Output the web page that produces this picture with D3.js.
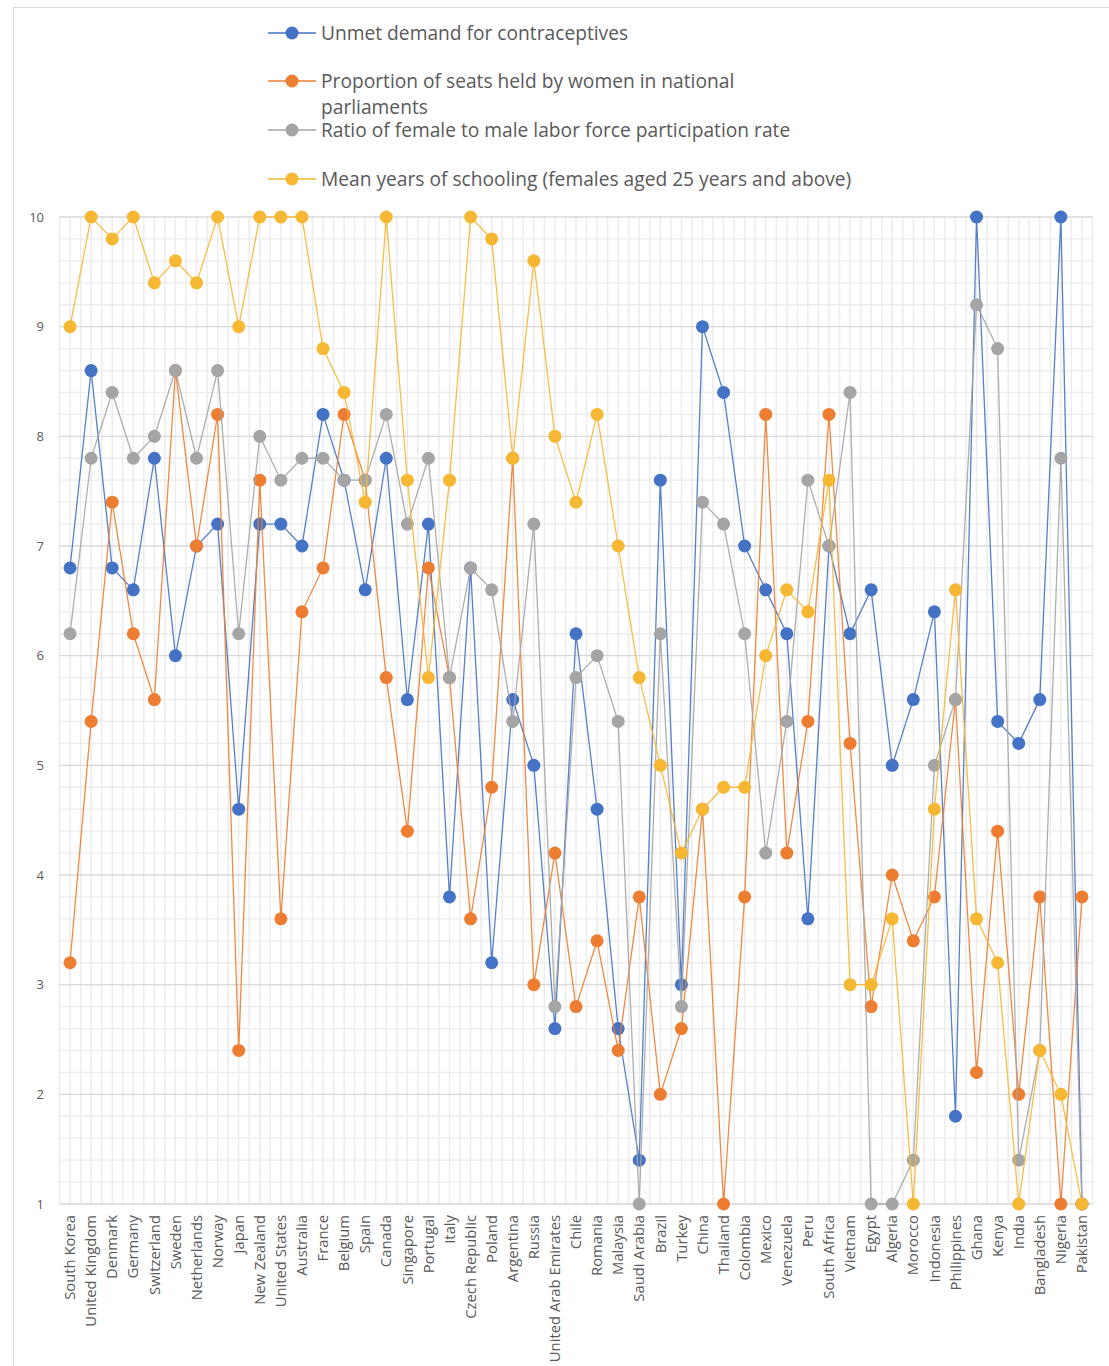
<!DOCTYPE html>
<html>
<head>
<meta charset="utf-8">
<script src="https://cdn.jsdelivr.net/npm/d3@7"></script>
<style>
  html, body { margin: 0; padding: 0; background: #ffffff; }
  svg { display: block; font-family: "Open Sans", "Noto Sans", sans-serif; }
</style>
</head>
<body>
<svg id="chart" width="1109" height="1366"></svg>
<script>
// Countries along the horizontal axis
const countries = [
  "South Korea", "United Kingdom", "Denmark", "Germany", "Switzerland", "Sweden",
  "Netherlands", "Norway", "Japan", "New Zealand", "United States", "Australia",
  "France", "Belgium", "Spain", "Canada", "Singapore", "Portugal", "Italy",
  "Czech Republic", "Poland", "Argentina", "Russia", "United Arab Emirates", "Chile",
  "Romania", "Malaysia", "Saudi Arabia", "Brazil", "Turkey", "China", "Thailand",
  "Colombia", "Mexico", "Venezuela", "Peru", "South Africa", "Vietnam", "Egypt",
  "Algeria", "Morocco", "Indonesia", "Philippines", "Ghana", "Kenya", "India",
  "Bangladesh", "Nigeria", "Pakistan"
];

// Series scores (1–10 scale)
const unmetDemand = [
  6.8, 8.6, 6.8, 6.6, 7.8, 6.0, 7.0, 7.2, 4.6, 7.2, 7.2, 7.0,
  8.2, 7.6, 6.6, 7.8, 5.6, 7.2, 3.8, 6.8, 3.2, 5.6, 5.0, 2.6, 6.2,
  4.6, 2.6, 1.4, 7.6, 3.0, 9.0, 8.4, 7.0, 6.6, 6.2, 3.6, 7.0, 6.2, 6.6,
  5.0, 5.6, 6.4, 1.8, 10.0, 5.4, 5.2, 5.6, 10.0, 1.0
];
const seatsWomen = [
  3.2, 5.4, 7.4, 6.2, 5.6, 8.6, 7.0, 8.2, 2.4, 7.6, 3.6, 6.4,
  6.8, 8.2, 7.6, 5.8, 4.4, 6.8, 5.8, 3.6, 4.8, 7.8, 3.0, 4.2, 2.8,
  3.4, 2.4, 3.8, 2.0, 2.6, 4.6, 1.0, 3.8, 8.2, 4.2, 5.4, 8.2, 5.2, 2.8,
  4.0, 3.4, 3.8, 5.6, 2.2, 4.4, 2.0, 3.8, 1.0, 3.8
];
const laborRatio = [
  6.2, 7.8, 8.4, 7.8, 8.0, 8.6, 7.8, 8.6, 6.2, 8.0, 7.6, 7.8,
  7.8, 7.6, 7.6, 8.2, 7.2, 7.8, 5.8, 6.8, 6.6, 5.4, 7.2, 2.8, 5.8,
  6.0, 5.4, 1.0, 6.2, 2.8, 7.4, 7.2, 6.2, 4.2, 5.4, 7.6, 7.0, 8.4, 1.0,
  1.0, 1.4, 5.0, 5.6, 9.2, 8.8, 1.4, 2.4, 7.8, 1.0
];
const schoolingYears = [
  9.0, 10.0, 9.8, 10.0, 9.4, 9.6, 9.4, 10.0, 9.0, 10.0, 10.0, 10.0,
  8.8, 8.4, 7.4, 10.0, 7.6, 5.8, 7.6, 10.0, 9.8, 7.8, 9.6, 8.0, 7.4,
  8.2, 7.0, 5.8, 5.0, 4.2, 4.6, 4.8, 4.8, 6.0, 6.6, 6.4, 7.6, 3.0, 3.0,
  3.6, 1.0, 4.6, 6.6, 3.6, 3.2, 1.0, 2.4, 2.0, 1.0
];

const seriesNames = [
  "Unmet demand for contraceptives",
  "Proportion of seats held by women in national parliaments",
  "Ratio of female to male labor force participation rate",
  "Mean years of schooling (females aged 25 years and above)"
];
const seriesColors = ["#4472C4", "#ED7D31", "#A5A5A5", "#F6B733"];
const yTicks = [1, 2, 3, 4, 5, 6, 7, 8, 9, 10];

const series = [unmetDemand, seatsWomen, laborRatio, schoolingYears].map((vals, i) => ({
  name: seriesNames[i],
  color: seriesColors[i],
  values: vals
}));

const svg = d3.select("#chart");

// Outer chart frame
svg.append("rect")
  .attr("x", 13.5).attr("y", 7.5)
  .attr("width", 1200).attr("height", 1500)
  .attr("fill", "none").attr("stroke", "#d9d9d9").attr("stroke-width", 1);

const x = d3.scaleBand().domain(countries).range([59.5, 1092.5]).paddingInner(0).paddingOuter(0);
const y = d3.scaleLinear().domain([1, 10]).range([1204, 217]);
const cx = c => x(c) + x.bandwidth() / 2;

const grid = svg.append("g");

// Minor horizontal gridlines every 0.2
const minorY = d3.range(1, 10.0001, 0.2).map(v => +v.toFixed(1)).filter(v => !Number.isInteger(v));
grid.selectAll("line.minor-h").data(minorY).join("line")
  .attr("x1", x.range()[0]).attr("x2", x.range()[1])
  .attr("y1", d => y(d)).attr("y2", d => y(d))
  .attr("stroke", "#ececec").attr("stroke-width", 1.3);

// Vertical gridlines at band edges and centres
const vLines = [];
countries.forEach(c => { vLines.push(x(c)); vLines.push(cx(c)); });
vLines.push(x.range()[1]);
grid.selectAll("line.v").data(vLines).join("line")
  .attr("x1", d => d).attr("x2", d => d)
  .attr("y1", y(10)).attr("y2", y(1))
  .attr("stroke", "#ececec").attr("stroke-width", 1.5);

// Major horizontal gridlines at integers
grid.selectAll("line.major").data(yTicks).join("line")
  .attr("x1", x.range()[0]).attr("x2", x.range()[1])
  .attr("y1", d => y(d)).attr("y2", d => y(d))
  .attr("stroke", "#d9d9d9").attr("stroke-width", 1.3);

// Y axis labels
const yAxis = d3.axisLeft(y).tickValues(yTicks).tickSize(0).tickPadding(0);
const yg = svg.append("g").attr("transform", "translate(44,0)").call(yAxis);
yg.select(".domain").remove();
yg.selectAll("text")
  .attr("fill", "#595959").attr("font-size", 13)
  .attr("font-family", "'Open Sans', sans-serif");

// X axis labels, rotated
const xAxis = d3.axisBottom(x).tickSize(0).tickPadding(0);
const xg = svg.append("g").attr("transform", `translate(0,${y(1)})`).call(xAxis);
xg.select(".domain").remove();
xg.selectAll("text")
  .attr("fill", "#595959").attr("font-size", 14.8)
  .attr("font-family", "'Open Sans', sans-serif")
  .attr("text-anchor", "end")
  .attr("dy", "0.35em")
  .attr("transform", "translate(0,11) rotate(-90)")
  .attr("x", 0).attr("y", 0);

// Lines and markers
const line = d3.line().x((d, i) => cx(countries[i])).y(d => y(d));
const plot = svg.append("g");
series.forEach(s => {
  const g = plot.append("g");
  g.append("path")
    .attr("d", line(s.values))
    .attr("fill", "none").attr("stroke", s.color).attr("stroke-width", 1.3)
    .attr("stroke-opacity", 0.9);
  g.selectAll("circle").data(s.values).join("circle")
    .attr("cx", (d, i) => cx(countries[i]))
    .attr("cy", d => y(d))
    .attr("r", 6.5)
    .attr("fill", s.color);
});

// Legend
const legendRows = [
  { s: 0, y: 33, lines: ["Unmet demand for contraceptives"] },
  { s: 1, y: 81, lines: ["Proportion of seats held by women in national", "parliaments"] },
  { s: 2, y: 130, lines: ["Ratio of female to male labor force participation rate"] },
  { s: 3, y: 179, lines: ["Mean years of schooling (females aged 25 years and above)"] }
];
const legend = svg.append("g");
legendRows.forEach(r => {
  const s = series[r.s];
  const g = legend.append("g");
  g.append("line").attr("x1", 268).attr("x2", 316).attr("y1", r.y).attr("y2", r.y)
    .attr("stroke", s.color).attr("stroke-width", 1.3);
  g.append("circle").attr("cx", 292).attr("cy", r.y).attr("r", 6.5).attr("fill", s.color);
  const t = g.append("text").attr("x", 321).attr("y", r.y)
    .attr("fill", "#595959").attr("font-size", 19.2)
    .attr("font-family", "'Open Sans', sans-serif");
  r.lines.forEach((ln, k) => {
    t.append("tspan").attr("x", 321).attr("dy", k === 0 ? "0.35em" : 26).text(ln);
  });
});
</script>
</body>
</html>
